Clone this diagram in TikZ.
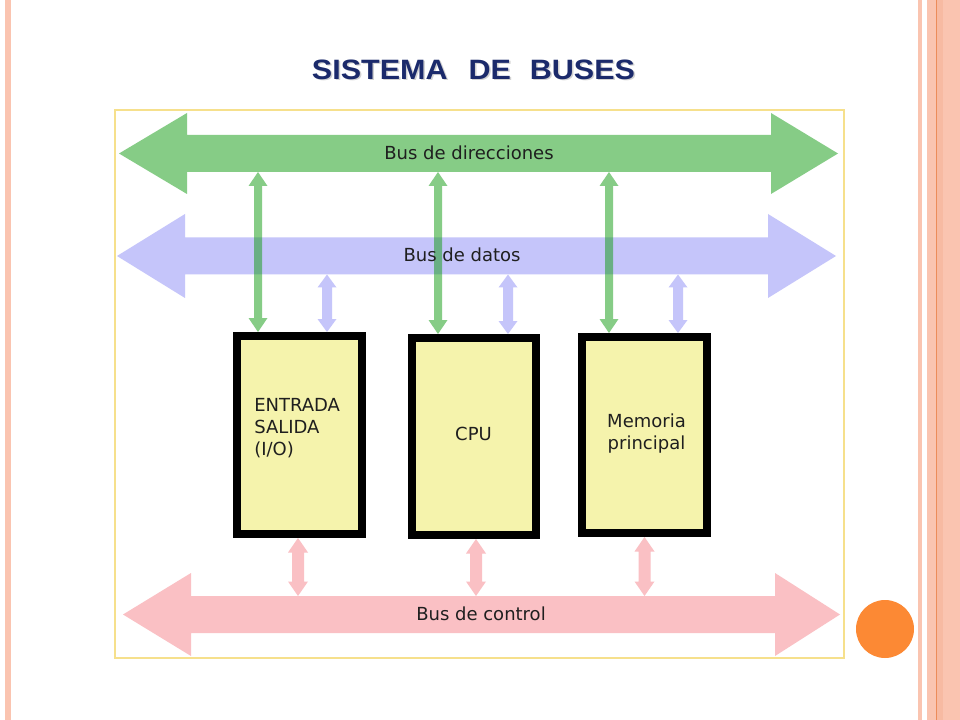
\documentclass[tikz,border=0pt]{standalone}
\usepackage{fontspec}
\usetikzlibrary{calc}
\newfontfamily\dejavu{DejaVu Sans}
\newfontfamily\arialf{Liberation Sans}
\definecolor{busgreen}{RGB}{15,155,15}
\definecolor{busblue}{RGB}{197,197,250}
\definecolor{buspink}{RGB}{250,192,196}
\definecolor{boxfill}{RGB}{245,243,172}
\definecolor{framecol}{RGB}{246,224,140}
\definecolor{titlecol}{RGB}{27,42,107}
\definecolor{stripe}{RGB}{250,196,176}
\definecolor{stripedark}{RGB}{247,186,162}
\definecolor{stripeline}{RGB}{236,140,90}
\definecolor{dotorange}{RGB}{252,137,52}
\tikzset{
  greenfill/.style={fill=busgreen, fill opacity=0.5},
  bluefill/.style={fill=busblue},
  pinkfill/.style={fill=buspink},
  unitbox/.style={draw=black, line width=6pt, fill=boxfill, inner sep=0pt},
  busnode/.style={inner sep=0pt, outer sep=0pt},
  lbl/.style={font=\dejavu\fontsize{13.5}{16.5}\selectfont, text=black!88, inner sep=0pt},
  titlefont/.style={font=\arialf\bfseries\fontsize{21}{21}\selectfont, anchor=base, inner sep=0pt},
}
% #1 style, #2 top point, #3 bottom point, #4 half shaft, #5 half head, #6 head length
\newcommand\blockarrow[6]{%
  \fill[#1] (#2) -- ($(#2)+(#5,#6)$) -- ($(#2)+(#4,#6)$) -- ($(#3)+(#4,-#6)$)
    -- ($(#3)+(#5,-#6)$) -- (#3) -- ($(#3)+(-#5,-#6)$) -- ($(#3)+(-#4,-#6)$)
    -- ($(#2)+(-#4,#6)$) -- ($(#2)+(-#5,#6)$) -- cycle;}
\begin{document}
\begin{tikzpicture}[x=0.75pt,y=-0.75pt]
\useasboundingbox (0,0) rectangle (960,720);
\fill[white] (0,0) rectangle (960,720);
% slide decoration
\fill[stripe] (5,0) rectangle (11,720);
\fill[stripe] (918,0) rectangle (922,720);
\fill[stripe] (927,0) rectangle (960,720);
\fill[stripedark] (937,0) rectangle (943,720);
\fill[stripeline] (935.5,0) rectangle (937,720);
\fill[dotorange] (885,629) circle (29);
% title
\node[titlefont, text=gray!35] (titleshadow) at (475,81) {\scalebox{1.09}[1]{SISTEMA\hspace{14.5pt}DE\hspace{13pt}BUSES}};
\node[titlefont, text=titlecol] (title) at (473.5,79.5) {\scalebox{1.09}[1]{SISTEMA\hspace{14.5pt}DE\hspace{13pt}BUSES}};
% frame
\draw[framecol, line width=1.1pt] (115,110) rectangle (844,658);
% bus nodes (shafts)
\node[busnode, minimum width=438pt, minimum height=27.75pt] (addr) at (479,153.5) {};
\node[busnode, minimum width=437.25pt, minimum height=27.75pt] (data) at (476.5,256) {};
\node[busnode, minimum width=438pt, minimum height=27.75pt] (ctrl) at (483,614.5) {};
% buses
\fill[greenfill] (119,153.5) -- (187,113) -- (187,135) -- (771,135) -- (771,113) -- (838,153.5)
  -- (771,194) -- (771,172) -- (187,172) -- (187,194) -- cycle;
\fill[bluefill] (117,256) -- (185,214) -- (185,237.5) -- (768,237.5) -- (768,214) -- (836,256)
  -- (768,298) -- (768,274.5) -- (185,274.5) -- (185,298) -- cycle;
\fill[pinkfill] (123,614.5) -- (191,573) -- (191,596) -- (775,596) -- (775,573) -- (840,614.5)
  -- (775,656) -- (775,633) -- (191,633) -- (191,656) -- cycle;
% units
\node[unitbox, minimum width=93.75pt, minimum height=148.5pt] (io) at (299.5,435) {};
\node[unitbox, minimum width=93pt, minimum height=147.75pt] (cpu) at (474,436.5) {};
\node[unitbox, minimum width=93.75pt, minimum height=147pt] (mem) at (644.5,435) {};
% connectors
\foreach \b/\gx/\lx/\px in {io/-41.5/27.5/-1.5, cpu/-36/34/2, mem/-35.5/33.5/0} {
  \coordinate (gb) at ($(\b.north)+(\gx,0)$);
  \coordinate (gt) at (gb |- addr.south);
  \blockarrow{greenfill}{gt}{gb}{4}{9.5}{14}
  \coordinate (lb) at ($(\b.north)+(\lx,0)$);
  \coordinate (lt) at (lb |- data.south);
  \blockarrow{bluefill}{lt}{lb}{5}{9.5}{13}
  \coordinate (pt) at ($(\b.south)+(\px,0)$);
  \coordinate (pb) at (pt |- ctrl.north);
  \blockarrow{pinkfill}{pt}{pb}{6}{10}{14.5}
}
% labels
\node[lbl, anchor=base] (addrlbl) at (469,160) {Bus de direcciones};
\node[lbl, anchor=base] (datalbl) at (462,261.5) {Bus de datos};
\node[lbl, anchor=base] (ctrllbl) at (481,620.5) {Bus de control};
\node[lbl, anchor=west, align=left] (iotext) at (254,427.7) {ENTRADA\\SALIDA\\(I/O)};
\node[lbl, anchor=center] (cputext) at (473.5,433.5) {CPU};
\node[lbl, anchor=center, align=center] (memtext) at (646.5,434) {Memoria\\principal};
\end{tikzpicture}
\end{document}
